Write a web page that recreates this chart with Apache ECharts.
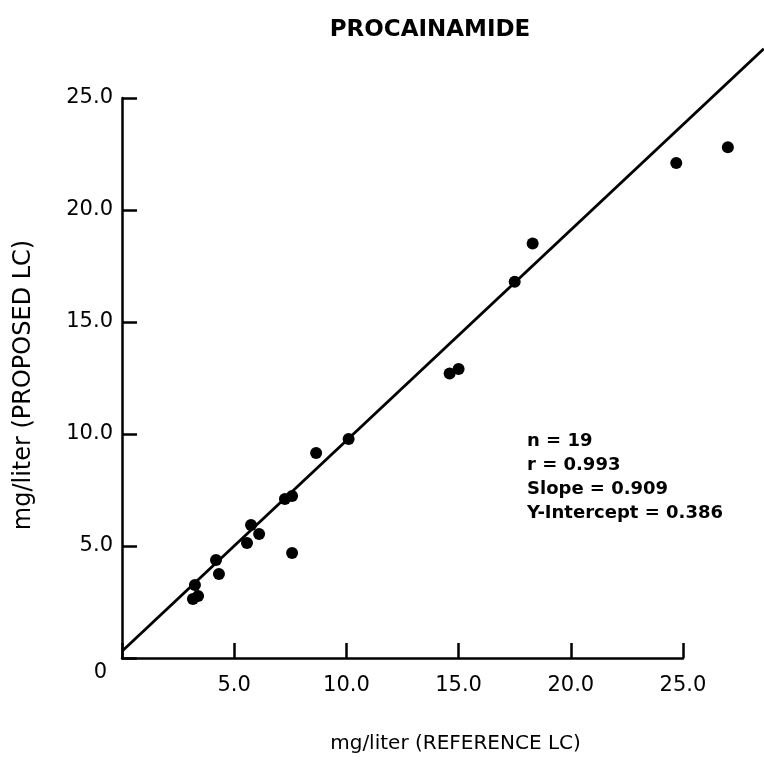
<!DOCTYPE html>
<html>
<head>
<meta charset="utf-8">
<script src="https://cdn.jsdelivr.net/npm/echarts@6/dist/echarts.min.js"></script>
<style>
  html, body { margin: 0; padding: 0; background: #fff; }
  #chart { width: 764px; height: 775px; }
</style>
</head>
<body>
<div id="chart"></div>
<script>
// Data: reference LC (x) vs proposed LC (y), mg/liter
const refValues  = [27.0, 24.7, 18.3, 17.5, 15.0, 14.6, 10.1, 8.65, 7.58, 7.26, 7.58, 5.75, 6.11, 5.57, 4.19, 4.32, 3.25, 3.39, 3.16];
const propValues = [22.8, 22.1, 18.5, 16.8, 12.9, 12.7, 9.78, 9.15, 7.23, 7.10, 4.69, 5.94, 5.54, 5.13, 4.38, 3.75, 3.26, 2.77, 2.63];

// Fitted line as drawn (runs past the end of the x axis)
const fitX = [0, 28.6];
const fitY = [0.3, 27.2];

const statLines = ['n = 19', 'r = 0.993', 'Slope = 0.909', 'Y-Intercept = 0.386'];

// plot box in pixels; the visible x axis stops at 25 but marks run to the page edge
const PLOT_LEFT = 122, AXIS_END = 683, PAGE_W = 764;
const X_MAX = 25;
const X_MAX_FULL = X_MAX * (PAGE_W - PLOT_LEFT) / (AXIS_END - PLOT_LEFT);

const chart = echarts.init(document.getElementById('chart'));

const points = refValues.map((x, i) => [x, propValues[i]]);
const fitLine = fitX.map((x, i) => [x, fitY[i]]);

const labelFont = { fontFamily: 'DejaVu Sans', fontSize: 21, color: '#000' };
const axisLineStyle = { color: '#000', width: 2.5 };

const option = {
    backgroundColor: '#fff',
    animation: false,
    title: [
        {
            text: 'PROCAINAMIDE',
            left: 425, top: 14, textAlign: 'center',
            textStyle: { fontFamily: 'DejaVu Sans', fontWeight: 'bold', fontSize: 23, color: '#000' }
        },
        {
            text: statLines.join('\n'),
            left: 522, top: 424,
            textStyle: { fontFamily: 'DejaVu Sans', fontWeight: 'bold', fontSize: 18, lineHeight: 24, color: '#000' }
        }
    ],
    grid: [
        { left: PLOT_LEFT, right: PAGE_W - AXIS_END, top: 98, bottom: 117 },
        { left: PLOT_LEFT, right: 0, top: 98, bottom: 117 }
    ],
    xAxis: [
        {
            type: 'value', gridIndex: 0,
            min: 0, max: X_MAX, interval: 5,
            name: 'mg/liter (REFERENCE LC)',
            nameLocation: 'middle',
            nameGap: 76,
            nameTextStyle: { fontFamily: 'DejaVu Sans', fontSize: 20, color: '#000', padding: [0, 0, 0, 106] },
            axisLine: { show: true, lineStyle: axisLineStyle },
            axisTick: { show: true, inside: true, length: 15, lineStyle: axisLineStyle },
            splitLine: { show: false },
            axisLabel: Object.assign({ margin: 17, formatter: v => (v === 0 ? '' : v.toFixed(1)) }, labelFont)
        },
        {
            type: 'value', gridIndex: 1,
            min: 0, max: X_MAX_FULL, show: false
        }
    ],
    yAxis: [
        {
            type: 'value', gridIndex: 0,
            min: 0, max: 25, interval: 5,
            name: 'mg/liter (PROPOSED LC)',
            nameLocation: 'middle',
            nameRotate: 90,
            nameGap: 86,
            nameTextStyle: { fontFamily: 'DejaVu Sans', fontSize: 24, color: '#000', padding: [0, 14, 0, 0] },
            axisLine: { show: true, lineStyle: axisLineStyle },
            axisTick: { show: true, inside: true, length: 15, lineStyle: axisLineStyle },
            splitLine: { show: false },
            axisLabel: Object.assign({
                margin: 9,
                formatter: v => (v === 0 ? '{z|0}' : v.toFixed(1)),
                rich: { z: Object.assign({ padding: [30, 6, 0, 0] }, labelFont) }
            }, labelFont)
        },
        {
            type: 'value', gridIndex: 1,
            min: 0, max: 25, show: false
        }
    ],
    series: [
        {
            type: 'line',
            xAxisIndex: 1, yAxisIndex: 1,
            data: fitLine,
            clip: false,
            symbol: 'none',
            lineStyle: { color: '#000', width: 2.8 },
            z: 2
        },
        {
            type: 'scatter',
            xAxisIndex: 1, yAxisIndex: 1,
            data: points,
            clip: false,
            symbol: 'circle',
            symbolSize: 12,
            itemStyle: { color: '#000', opacity: 1 },
            z: 3
        }
    ]
};

chart.setOption(option);
</script>
</body>
</html>
